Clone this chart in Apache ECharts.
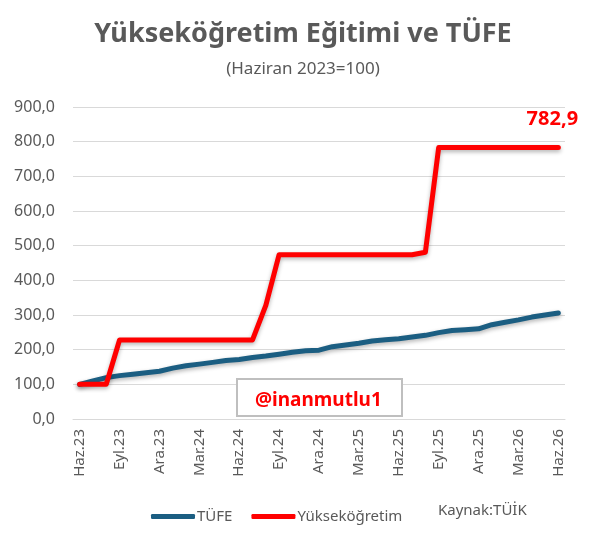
<!DOCTYPE html>
<html>
<head>
<meta charset="utf-8">
<script src="https://cdn.jsdelivr.net/npm/echarts@6/dist/echarts.min.js"></script>
<style>
  html, body { margin: 0; padding: 0; background: #fff; }
  #chart { width: 606px; height: 543px; }
</style>
</head>
<body>
<div id="chart"></div>
<script>
  // ay etiketleri (Haz.23 - Haz.26)
  const months = [
    'Haz.23', 'Tem.23', 'Ağu.23', 'Eyl.23', 'Eki.23', 'Kas.23', 'Ara.23',
    'Oca.24', 'Şub.24', 'Mar.24', 'Nis.24', 'May.24', 'Haz.24', 'Tem.24',
    'Ağu.24', 'Eyl.24', 'Eki.24', 'Kas.24', 'Ara.24', 'Oca.25', 'Şub.25',
    'Mar.25', 'Nis.25', 'May.25', 'Haz.25', 'Tem.25', 'Ağu.25', 'Eyl.25',
    'Eki.25', 'Kas.25', 'Ara.25', 'Oca.26', 'Şub.26', 'Mar.26', 'Nis.26',
    'May.26', 'Haz.26',
  ]
  const tufe = [
    100, 109.5, 119.4, 125.1, 129.4, 133.7, 137.6,
    146.8, 153.4, 158.3, 163.3, 168.8, 171.6, 177.2,
    181.5, 186.9, 192.3, 196.6, 198.6, 208.6, 213.3,
    218.6, 225.1, 228.6, 231.7, 236.5, 241.3, 249.1,
    255.5, 257.7, 260.0, 272.0, 279.0, 286.0, 294.0,
    300.0, 306.0,
  ]
  const yuksek = [
    100, 100, 100, 228, 228, 228, 228,
    228, 228, 228, 228, 228, 228, 228,
    328, 474, 474, 474, 474, 474, 474,
    474, 474, 474, 474, 474, 481, 782.9,
    782.9, 782.9, 782.9, 782.9, 782.9, 782.9, 782.9,
    782.9, 782.9,
  ]

  const gray = '#595959'
  const font = 'Noto Sans'
  const fmt = v => v.toFixed(1).replace('.', ',')

  const chart = echarts.init(document.getElementById('chart'))
  const option = {
    backgroundColor: '#fff',
    animation: false,
    textStyle: { fontFamily: font },
    title: {
      text: 'Yükseköğretim Eğitimi ve TÜFE',
      subtext: '(Haziran 2023=100)',
      left: 'center',
      top: 16,
      itemGap: 13,
      textStyle: { color: gray, fontSize: 27, fontWeight: 'bold', fontFamily: font },
      subtextStyle: { color: gray, fontSize: 17, fontFamily: font },
    },
    legend: {
      bottom: 14,
      left: 146,
      itemWidth: 44,
      itemHeight: 5,
      itemGap: 19,
      icon: 'roundRect',
      textStyle: { color: gray, fontSize: 15, fontFamily: font, padding: [0, 0, 0, -3] },
      data: ['TÜFE', 'Yükseköğretim'],
    },
    grid: { left: 73, right: 41, top: 107, bottom: 124 },
    xAxis: {
      type: 'category',
      data: months,
      boundaryGap: true,
      axisLine: { lineStyle: { color: '#d9d9d9', width: 1 } },
      axisTick: { show: false },
      axisLabel: { interval: 2, rotate: 90, color: gray, fontSize: 15, margin: 10 },
    },
    yAxis: {
      type: 'value',
      min: 0,
      max: 900,
      interval: 100,
      axisLine: { show: false },
      axisTick: { show: false },
      splitLine: { lineStyle: { color: '#d9d9d9', width: 1 } },
      axisLabel: { color: gray, fontSize: 16, margin: 18, formatter: fmt },
    },
    graphic: [
      {
        type: 'rect',
        left: 236,
        top: 378,
        shape: { width: 165, height: 37 },
        style: { fill: '#fff', stroke: '#bfbfbf', lineWidth: 2 },
        z: 1,
      },
      {
        type: 'text',
        left: 255,
        top: 391,
        style: { text: '@inanmutlu1', fill: '#ff0000', font: 'bold 19px "Noto Sans"' },
        z: 2,
      },
      {
        type: 'text',
        left: 438,
        top: 503,
        style: { text: 'Kaynak:TÜİK', fill: gray, font: '15px "Noto Sans"' },
      },
    ],
    series: [
      {
        name: 'TÜFE',
        type: 'line',
        data: tufe,
        showSymbol: false,
        color: '#1b5e82',
        z: 3,
        lineStyle: {
          width: 5,
          cap: 'round',
          join: 'round',
          shadowColor: 'rgba(0,0,0,0.3)',
          shadowBlur: 4,
          shadowOffsetY: 2,
        },
      },
      {
        name: 'Yükseköğretim',
        type: 'line',
        data: yuksek,
        showSymbol: true,
        symbol: 'circle',
        symbolSize: 0,
        color: '#ff0000',
        z: 4,
        lineStyle: {
          width: 5,
          cap: 'round',
          join: 'round',
          shadowColor: 'rgba(0,0,0,0.3)',
          shadowBlur: 4,
          shadowOffsetY: 2,
        },
        label: {
          show: true,
          position: 'top',
          distance: 18,
          offset: [-6, 0],
          color: '#ff0000',
          fontSize: 20,
          fontWeight: 'bold',
          fontFamily: font,
          formatter: p => (p.dataIndex === yuksek.length - 1 ? fmt(p.value) : ''),
        },
      },
    ],
  }
  chart.setOption(option)
</script>
</body>
</html>
